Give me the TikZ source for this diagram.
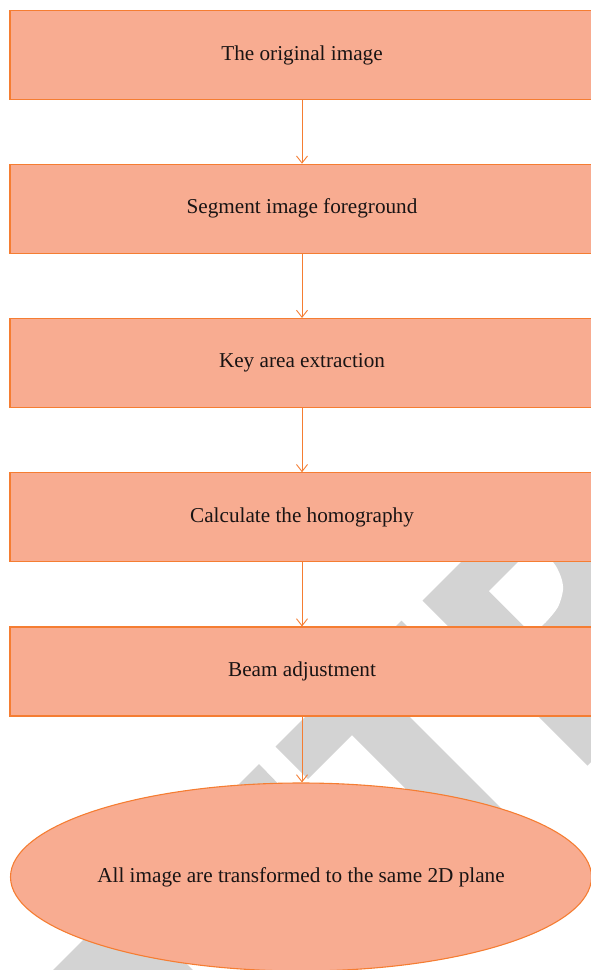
\documentclass[tikz,border=0pt]{standalone}
\usepackage{fontspec}
\setmainfont{Liberation Serif}
\usetikzlibrary{shapes.geometric,arrows.meta}
\definecolor{boxfill}{RGB}{248,172,145}
\definecolor{boxline}{RGB}{245,125,50}
\definecolor{wm}{RGB}{211,211,211}
\definecolor{txt}{RGB}{25,20,20}
\begin{document}
\begin{tikzpicture}[x=1pt,y=-1pt,
  stepbox/.style={draw=boxline, fill=boxfill, line width=1.1pt, minimum width=584pt, minimum height=89pt, inner sep=0pt, text=txt, font=\fontsize{21.2pt}{25pt}\selectfont},
  endoval/.style={ellipse, draw=boxline, fill=boxfill, line width=1.1pt, minimum width=581pt, minimum height=188pt, inner sep=0pt, text=txt, font=\fontsize{21.2pt}{25pt}\selectfont},
  flow/.style={draw=boxline, line width=0.9pt, -{Straight Barb[length=7pt,width=11pt,line width=0.9pt]}}]
\useasboundingbox (0,0) rectangle (591,970);
\clip (0,0) rectangle (591,970);
% watermark
\fill[wm] (52,971) -- (259,764) -- (291,797) -- (155.5,932.5) -- (194,971) -- cycle;
\fill[wm] (275.5,746.5) -- (401.5,620.5) -- (434,653) -- (390,697) -- (523,830) -- (485,868) -- (352,735) -- (308,779) -- cycle;
\fill[wm] (422.5,600.5) -- (520,503) -- (650,503) -- (650,727.5) -- (625.5,727.5) -- (587.5,765.5) -- cycle;
\fill[white] (489,591) -- plot[smooth] coordinates {(518,562) (536,550) (553,562) (561,577) (563,590) (558,607) (546,622) (535,632)} -- (530,632) -- cycle;
% boxes
\node[stepbox] (b1) at (302,55) {The original image};
\node[stepbox] (b2) at (302,208.75) {Segment image foreground};
\node[stepbox] (b3) at (302,363) {Key area extraction};
\node[stepbox] (b4) at (302,517.25) {Calculate the homography};
\node[stepbox] (b5) at (302,671.5) {Beam adjustment};
\node[endoval] (e) at (301,877) {All image are transformed to the same 2D plane};
% connectors
\draw[flow] (b1.south) -- (b2.north);
\draw[flow] (b2.south) -- (b3.north);
\draw[flow] (b3.south) -- (b4.north);
\draw[flow] (b4.south) -- (b5.north);
\draw[flow] (b5.south) -- (b5.south |- e.north);
\end{tikzpicture}
\end{document}
